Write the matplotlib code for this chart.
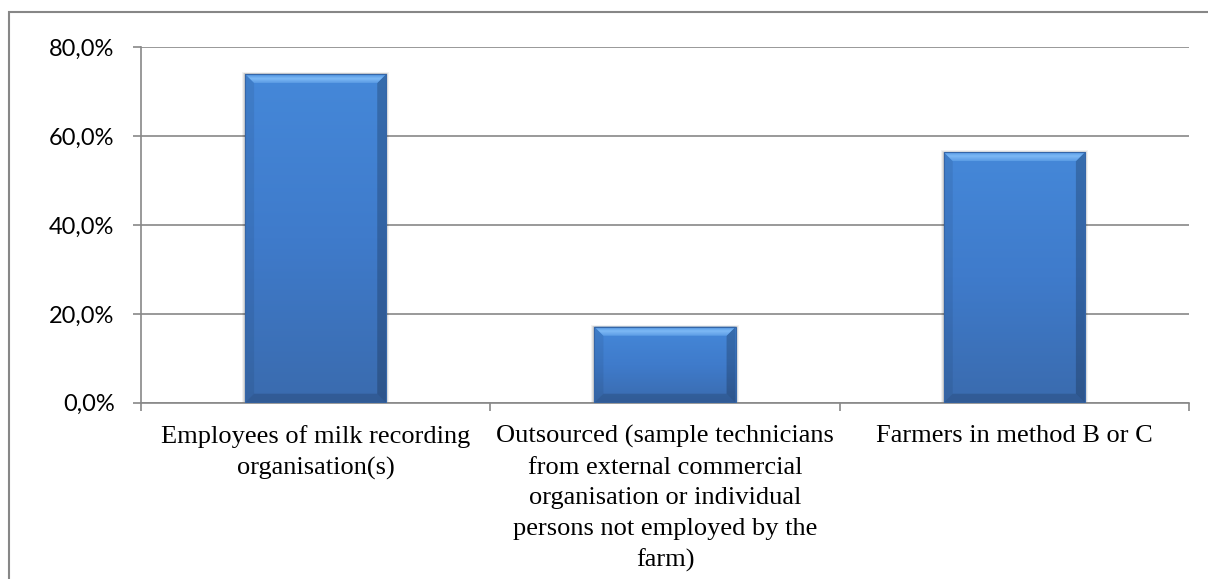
import matplotlib
matplotlib.use("Agg")
import matplotlib.pyplot as plt
import numpy as np
from matplotlib.patches import Polygon, Rectangle
from matplotlib.colors import LinearSegmentedColormap
from matplotlib.ticker import FixedLocator, FuncFormatter

categories = [
    "Employees of milk recording\norganisation(s)",
    "Outsourced (sample technicians\nfrom external commercial\norganisation or individual\npersons not employed by the\nfarm)",
    "Farmers in method B or C",
]
values = [74.0, 17.1, 56.4]
yticks = [0, 20, 40, 60, 80]

W, H = 1208, 579
fig = plt.figure(figsize=(W / 100, H / 100), dpi=100)
fig.patch.set_facecolor("white")

left, right = 141 / W, 1189 / W
bottom, top = 1 - 402.7 / H, 1 - 47.3 / H
ax = fig.add_axes([left, bottom, right - left, top - bottom])

x = np.arange(len(categories))
bars = ax.bar(x, values, width=0.404, color="#3F7BCB", zorder=3, linewidth=0)

ax.set_xlim(-0.5, len(categories) - 0.5)
ax.set_ylim(0, 80)

grid_c = "#888888"
for s in ["top", "right"]:
    ax.spines[s].set_visible(False)
for s in ["left", "bottom"]:
    ax.spines[s].set_color(grid_c)
    ax.spines[s].set_linewidth(1.2)

ax.yaxis.set_major_locator(FixedLocator(yticks))
ax.yaxis.set_major_formatter(FuncFormatter(lambda v, p: f"{v:.1f}%".replace(".", ",")))
ax.grid(axis="y", color=grid_c, linewidth=1.2, zorder=0)
ax.set_axisbelow(True)
ax.tick_params(axis="y", direction="out", length=6, width=1.2, color=grid_c, pad=13,
               labelsize=17, labelcolor="black")
for lab in ax.get_yticklabels():
    lab.set_fontfamily("Lato")

ax.set_xticks(x)
ax.set_xticklabels(categories, fontfamily="Liberation Serif", fontsize=19, linespacing=1.5,
                   va="top", ha="center")
ax.tick_params(axis="x", which="major", length=0, pad=16)
ax.set_xticks(np.arange(-0.5, len(categories), 1.0), minor=True)
ax.tick_params(axis="x", which="minor", direction="out", length=6, width=1.2, color=grid_c)

# bevel effect derived from bar geometry
fig.canvas.draw()
px_x = ax.transData.transform((1, 0))[0] - ax.transData.transform((0, 0))[0]
px_y = ax.transData.transform((0, 1))[1] - ax.transData.transform((0, 0))[1]
bx, by = 9 / px_x, 9 / px_y
ox, oy = 2 / px_x, 2 / px_y

cmap_body = LinearSegmentedColormap.from_list("body", ["#4588D9", "#3F7BCB", "#3A6BAE"])
cmap_top = LinearSegmentedColormap.from_list("topb", ["#4A8EDE", "#7DB9F5", "#5A9BE4"])
for b in bars:
    x0, w, h = b.get_x(), b.get_width(), b.get_height()
    x1 = x0 + w
    # soft shadow / glow
    for k, a in ((3, 0.05), (2, 0.07), (1, 0.09)):
        ax.add_patch(Rectangle((x0 - k * ox * 0.5, 0), w + k * ox, h + k * oy * 0.3,
                               facecolor="#000000", alpha=a, zorder=2.5, linewidth=0))
    grad = np.linspace(0, 1, 256).reshape(-1, 1)
    im = ax.imshow(grad, cmap=cmap_body, aspect="auto", extent=(x0, x1, 0, h),
                   origin="upper", zorder=3.1, interpolation="bilinear")
    im.set_clip_path(b)
    # top bevel with vertical gradient
    top_poly = Polygon([(x0, h), (x1, h), (x1 - bx, h - by), (x0 + bx, h - by)],
                       closed=True, facecolor="none", edgecolor="none", zorder=3.3)
    ax.add_patch(top_poly)
    imt = ax.imshow(grad, cmap=cmap_top, aspect="auto", extent=(x0, x1, h - by, h),
                    origin="upper", zorder=3.3, interpolation="bilinear")
    imt.set_clip_path(top_poly)
    left_poly = Polygon([(x0, 0), (x0, h), (x0 + bx, h - by), (x0 + bx, by)],
                        closed=True, facecolor="#000000", alpha=0.07, edgecolor="none", zorder=3.2)
    right_poly = Polygon([(x1, 0), (x1, h), (x1 - bx, h - by), (x1 - bx, by)],
                         closed=True, facecolor="#000000", alpha=0.2, edgecolor="none", zorder=3.2)
    bot_poly = Polygon([(x0, 0), (x1, 0), (x1 - bx, by), (x0 + bx, by)],
                       closed=True, facecolor="#000000", alpha=0.14, edgecolor="none", zorder=3.2)
    for p in (left_poly, right_poly, bot_poly):
        ax.add_patch(p)
    ax.add_patch(Rectangle((x0, 0), w, h, facecolor="none", edgecolor="#3566A8",
                           linewidth=0.8, zorder=3.5))

# chart-area border (left and top visible)
fig.add_artist(Rectangle((9 / W, -0.05), 1.1, 1.05 - 12 / H, transform=fig.transFigure,
                         facecolor="none", edgecolor="#878787", linewidth=1.5))

fig.savefig("out.png", dpi=100, facecolor="white")
